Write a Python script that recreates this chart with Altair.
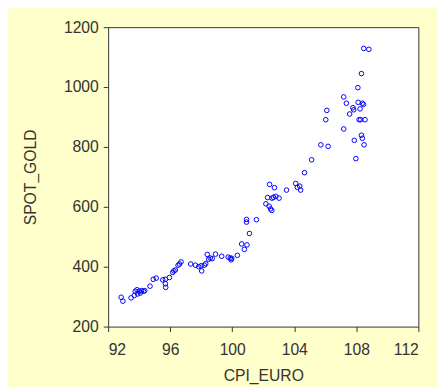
import altair as alt
import pandas as pd

cpi_euro = [92.84, 92.95, 93.48, 93.69, 93.75, 93.86, 93.90, 94.0, 94.07, 94.15,
            94.28, 94.36, 94.7, 94.91, 95.1, 95.52, 95.69, 95.69, 95.71, 95.95,
            96.16, 96.24, 96.33, 96.51, 96.6, 96.7, 97.32, 97.63, 97.84, 97.99,
            98.03, 98.2, 98.29, 98.39, 98.48, 98.58, 98.71, 98.92, 99.32, 99.74,
            99.87, 99.93, 99.97, 100.33, 100.61, 100.78, 100.95, 100.92, 100.92, 101.11,
            101.56, 102.17, 102.28, 102.41, 102.38, 102.47, 102.55, 102.57, 102.66, 102.72,
            102.81, 103.02, 103.5, 104.09, 104.2, 104.35, 104.41, 104.66, 105.12, 105.71,
            106.18, 106.03, 106.1, 107.19, 107.19, 107.36, 107.57, 107.78, 107.83, 107.87,
            107.97, 108.1, 108.12, 108.18, 108.24, 108.28, 108.33, 108.33, 108.39, 108.39,
            108.46, 108.5, 108.56, 108.48, 108.81]
spot_gold = [298, 285, 296, 304, 318, 323, 309, 318, 312, 320,
             318, 320, 335, 358, 362, 356, 358, 343, 331, 364,
             381, 386, 389, 405, 409, 416, 409, 405, 400, 403,
             386, 405, 410, 441, 425, 429, 427, 442, 435, 432,
             429, 423, 428, 438, 476, 458, 473, 558, 549, 511,
             557, 610, 631, 675, 602, 593, 588, 629, 632, 664,
             635, 629, 656, 678, 665, 669, 656, 714, 757, 807,
             802, 891, 922, 967, 860, 946, 910, 931, 924, 822,
             761, 998, 949, 891, 927, 891, 1045, 839, 829, 946,
             942, 807, 891, 1129, 1126]

x_ticks = [92, 96, 100, 104, 108, 112]
y_ticks = [200, 400, 600, 800, 1000, 1200]

df = pd.DataFrame({"CPI_EURO": cpi_euro, "SPOT_GOLD": spot_gold})

font = "Liberation Sans"
txt = "#333333"

chart = alt.Chart(df).mark_point(
    shape="circle", filled=False, color="#0000FF", size=22, strokeWidth=1, opacity=1
).encode(
    x=alt.X("CPI_EURO:Q", scale=alt.Scale(domain=[92, 112], nice=False, zero=False),
            axis=alt.Axis(values=x_ticks, title="CPI_EURO", grid=False, format="d")),
    y=alt.Y("SPOT_GOLD:Q", scale=alt.Scale(domain=[200, 1200], nice=False, zero=False),
            axis=alt.Axis(values=y_ticks, title="SPOT_GOLD", grid=False, format="d")),
).properties(
    width=316, height=305,
    autosize=alt.AutoSizeParams(type="none"),
    padding={"left": 102, "top": 16, "right": 20, "bottom": 58},
    background="#FFFFCC",
).configure_view(
    fill="white", stroke="#333333", strokeWidth=1
).configure_axis(
    domain=False, tickColor="#333333", tickSize=5, tickWidth=1,
    labelFont=font, labelFontSize=16, labelColor=txt,
    titleFont=font, titleFontSize=16, titleColor=txt, titleFontWeight="normal",
).configure_axisX(
    labelPadding=10, titlePadding=11
).configure_axisY(
    labelPadding=5, titlePadding=25
)

chart.save("out.html", embed_options={"renderer": "svg", "actions": False})
